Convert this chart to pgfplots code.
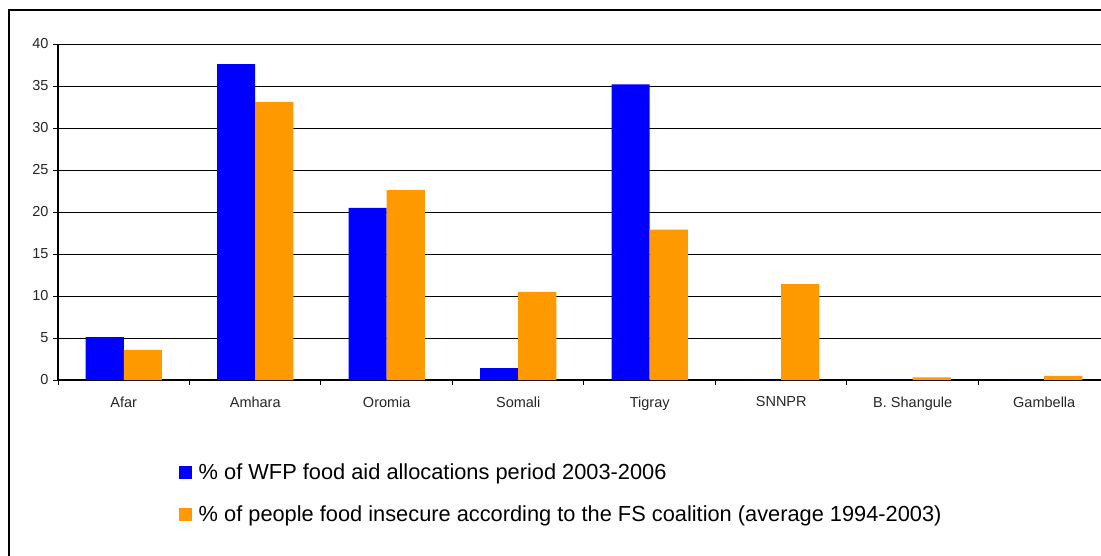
\documentclass[border=0pt]{standalone}
\usepackage{pgfplots}
\pgfplotsset{compat=1.18}
\usepackage{fontspec}
\setmainfont{Liberation Sans}
\definecolor{wfpblue}{RGB}{0,0,255}
\definecolor{fsorange}{RGB}{255,153,0}
\begin{document}
\begin{tikzpicture}[x=1bp,y=1bp]
\begin{axis}[
  at={(58bp,-380bp)}, anchor=south west,
  scale only axis, width=1052bp, height=336bp,
  xmin=-0.5, xmax=7.5, ymin=0, ymax=40,
  ytick={0,5,...,40},
  xtick={0,...,7},
  xticklabels={Afar,Amhara,Oromia,Somali,Tigray,SNNPR,B. Shangule,Gambella},
  x tick style={draw=none},
  extra x ticks={-0.5,0.5,...,7.5},
  extra x tick labels={},
  extra x tick style={x tick style={draw=black, line width=1bp}, major tick length=5bp, tick align=outside},
  axis x line*=bottom, axis y line*=left,
  axis line style={black, line width=1.2bp, -},
  ymajorgrids, grid style={black, line width=0.8bp},
  tick align=outside, major tick length=5bp,
  y tick style={black, line width=1bp},
  /pgf/number format/assume math mode=true,
  tick label style={font=\fontsize{14.5bp}{17bp}\selectfont, text=black!85},
  xticklabel style={yshift=-8bp},
  yticklabel style={xshift=-1bp},
  ybar, bar width=0.29,
  legend style={at={(axis description cs:0.1122,-0.243)}, anchor=north west, draw=none, fill=none,
    nodes={inner sep=0pt, anchor=west}, column sep=6.5bp, row sep=25bp,
    font=\fontsize{21.8bp}{25bp}\selectfont},
  legend cell align=left,
]
\addplot[fill=wfpblue, draw=none, bar shift=-0.145,
  legend image code/.code={\path[fill=wfpblue] (0bp,-6.5bp) rectangle (13bp,6.5bp);}]
  coordinates {(0,5.1) (1,37.6) (2,20.5) (3,1.4) (4,35.2) (5,0) (6,0) (7,0)};
\addplot[fill=fsorange, draw=none, bar shift=0.145,
  legend image code/.code={\path[fill=fsorange] (0bp,-6.5bp) rectangle (13bp,6.5bp);}]
  coordinates {(0,3.6) (1,33.1) (2,22.6) (3,10.5) (4,17.9) (5,11.4) (6,0.3) (7,0.5)};
\legend{\% of WFP food aid allocations period 2003-2006,\% of people food insecure according to the FS coalition (average 1994-2003)}
\end{axis}
\pgfresetboundingbox
\path[use as bounding box] (0,0) rectangle (1101,-556);
\draw[line width=1.3bp] (9,-10) rectangle (1140,-590);
\end{tikzpicture}
\end{document}
